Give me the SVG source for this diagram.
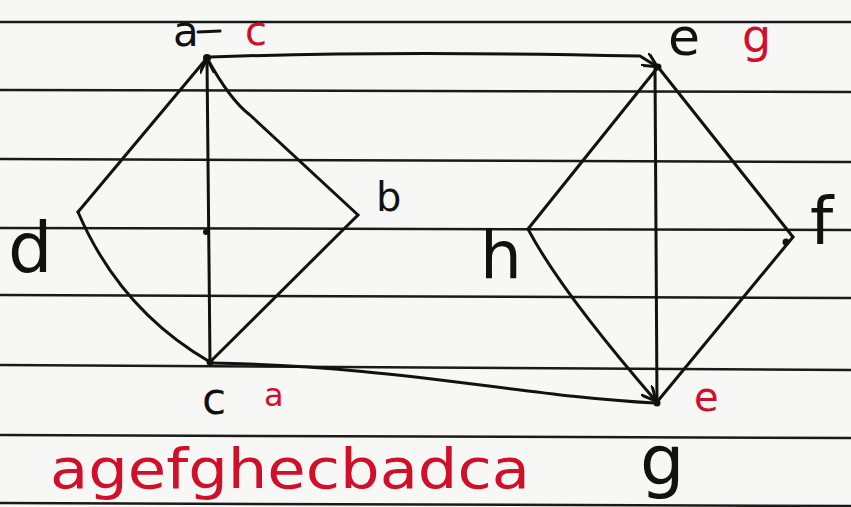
<svg xmlns="http://www.w3.org/2000/svg" width="851" height="507" viewBox="0 0 851 507">
<style>
.rule{stroke:#1a1a1a;stroke-width:2.5;fill:none}
.edge{stroke:#111;stroke-width:3;fill:none;stroke-linecap:round;stroke-linejoin:round}
.lbl{font-family:"DejaVu Sans","Liberation Sans",sans-serif;fill:#111}
.red{font-family:"DejaVu Sans","Liberation Sans",sans-serif;fill:#d0102a}
</style>
<defs>
<marker id="ah" viewBox="0 0 10 10" refX="9" refY="5" markerWidth="5" markerHeight="5" orient="auto" markerUnits="strokeWidth">
<path d="M0,0 L10,5 L0,10" fill="none" stroke="#111" stroke-width="2"/>
</marker>
</defs>
<rect width="851" height="507" fill="#f7f7f5"/>
<g id="paper">
<line class="rule" x1="0" y1="22" x2="851" y2="22"/>
<line class="rule" x1="0" y1="90" x2="851" y2="92"/>
<line class="rule" x1="0" y1="159" x2="851" y2="162"/>
<line class="rule" x1="0" y1="228" x2="851" y2="230"/>
<line class="rule" x1="0" y1="295" x2="851" y2="298"/>
<line class="rule" x1="0" y1="365" x2="851" y2="370"/>
<line class="rule" x1="0" y1="435" x2="851" y2="438"/>
<line class="rule" x1="0" y1="503" x2="851" y2="506"/>
</g>
<g id="connectors">
<path class="edge" d="M207,58 L78,212"/>
<path class="edge" d="M207,58 Q230,100 250,115 L358,215"/>
<path class="edge" d="M210,362 L207,60" marker-end="url(#ah)"/>
<path class="edge" d="M78,212 Q120,310 210,362"/>
<path class="edge" d="M358,215 L210,362"/>
<path class="edge" d="M210,57 C350,52 500,53 640,56 L656,66" marker-end="url(#ah)"/>
<path class="edge" d="M210,363 C400,366 520,396 655,403"/>
<path class="edge" d="M658,67 L528,229"/>
<path class="edge" d="M658,67 L793,237"/>
<path class="edge" d="M655,67 L657,402"/>
<path class="edge" d="M528,229 Q560,290 655,400" marker-end="url(#ah)"/>
<path class="edge" d="M793,237 L657,402"/>
<circle cx="207" cy="58" r="4" fill="#111"/>
<circle cx="210" cy="362" r="3.5" fill="#111"/>
<circle cx="658" cy="67" r="3.5" fill="#111"/>
<circle cx="657" cy="403" r="3.5" fill="#111"/>
<circle cx="786" cy="242" r="3.5" fill="#111"/>
<circle cx="206" cy="232" r="3" fill="#111"/>
</g>
<g id="node-a">
<text class="lbl" x="173" y="46" font-size="42">a</text>
<path class="edge" d="M198,32 L220,31"/>
<text class="red" x="245" y="45" font-size="40">c</text>
</g>
<g id="node-e-top">
<text class="lbl" x="668" y="55" font-size="52">e</text>
<text class="red" x="742" y="52" font-size="46">g</text>
</g>
<g id="node-d"><text class="lbl" x="8" y="272" font-size="70">d</text></g>
<g id="node-b"><text class="lbl" x="376" y="211" font-size="40">b</text></g>
<g id="node-h"><text class="lbl" x="480" y="278" font-size="66">h</text></g>
<g id="node-f"><text class="lbl" x="810" y="244" font-size="66">f</text></g>
<g id="node-c">
<text class="lbl" x="202" y="414" font-size="44">c</text>
<text class="red" x="264" y="406" font-size="32">a</text>
</g>
<g id="node-g">
<text class="red" x="694" y="411" font-size="40">e</text>
<text class="lbl" x="640" y="485" font-size="70">g</text>
</g>
<text class="red" x="50" y="488" font-size="56" textLength="480" lengthAdjust="spacingAndGlyphs">agefghecbadca</text>
</svg>
